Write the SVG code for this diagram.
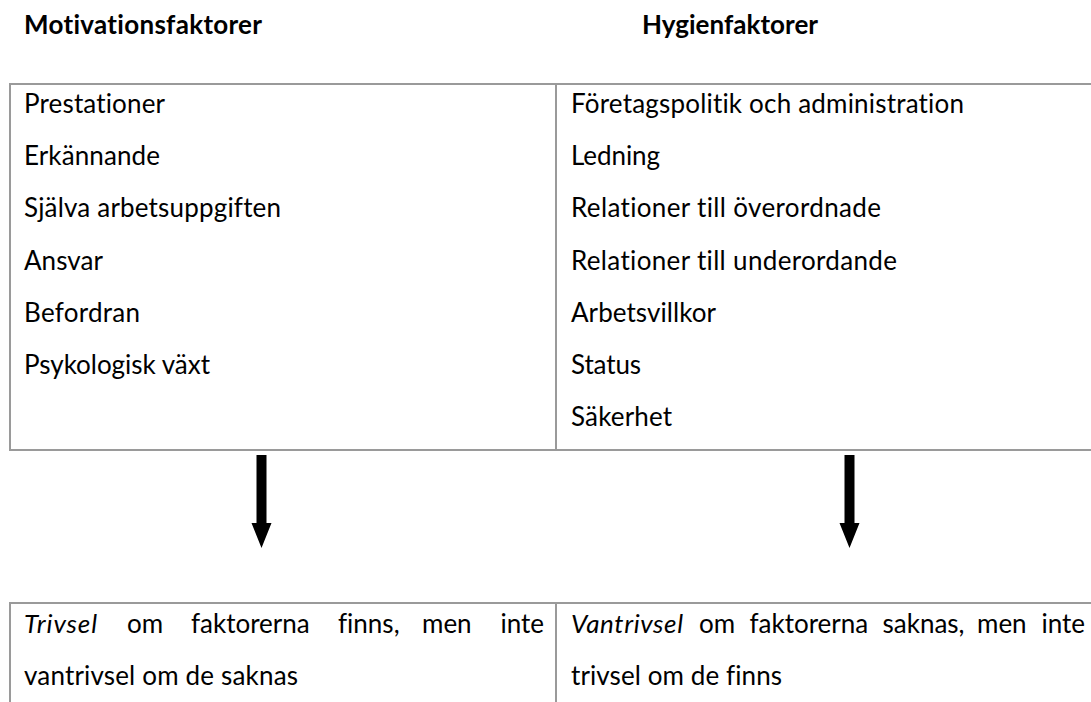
<svg xmlns="http://www.w3.org/2000/svg" xmlns:xlink="http://www.w3.org/1999/xlink" width="1091" height="702" viewBox="0 0 1091 702">
  <style>
    .t { font-family: Lato, "Liberation Sans", sans-serif; font-size: 26px; fill: #000; font-variant-ligatures: none; }
    .h { font-family: Lato, "Liberation Sans", sans-serif; font-size: 26px; font-weight: bold; fill: #000; font-variant-ligatures: none; }
    .i { font-style: italic; }
    .e { text-anchor: end; }
    .box { fill: #fff; stroke: #9a9a9a; stroke-width: 2; }
    .div { stroke: #9a9a9a; stroke-width: 2; }
    .arrow { fill: #000; }
  </style>
  <defs>
    <path id="thickArrow" d="M -5 0 L 5 0 L 5 68 L 10 68 L 0 93 L -10 68 L -5 68 Z"/>
  </defs>
  <rect width="1091" height="702" fill="#fff"/>

  <g id="header-motivation">
    <text class="h" x="24" y="34" textLength="238">Motivationsfaktorer</text>
  </g>
  <g id="header-hygien">
    <text class="h" x="642" y="34" textLength="176">Hygienfaktorer</text>
  </g>

  <g id="table-factors">
    <rect class="box" x="10" y="84" width="1095" height="366"/>
    <line class="div" x1="556" y1="84" x2="556" y2="450"/>
  </g>

  <g id="motivation-list">
    <text class="t" x="24" y="113" textLength="141">Prestationer</text>
    <text class="t" x="24" y="165.2" textLength="136">Erkännande</text>
    <text class="t" x="24" y="217.4" textLength="257">Själva arbetsuppgiften</text>
    <text class="t" x="24" y="269.6" textLength="79">Ansvar</text>
    <text class="t" x="24" y="321.8" textLength="116">Befordran</text>
    <text class="t" x="24" y="374" textLength="186">Psykologisk växt</text>
  </g>

  <g id="hygien-list">
    <text class="t" x="571" y="113" textLength="393">Företagspolitik och administration</text>
    <text class="t" x="571" y="165.2" textLength="89">Ledning</text>
    <text class="t" x="571" y="217.4" textLength="310">Relationer till överordnade</text>
    <text class="t" x="571" y="269.6" textLength="326">Relationer till underordande</text>
    <text class="t" x="571" y="321.8" textLength="145">Arbetsvillkor</text>
    <text class="t" x="571" y="374" textLength="70">Status</text>
    <text class="t" x="571" y="426.2" textLength="101">Säkerhet</text>
  </g>

  <g id="connectors">
    <use href="#thickArrow" xlink:href="#thickArrow" class="arrow" transform="translate(261.5,455)"/>
    <use href="#thickArrow" xlink:href="#thickArrow" class="arrow" transform="translate(849.5,455)"/>
  </g>

  <g id="table-outcomes">
    <rect class="box" x="10" y="603" width="1095" height="120"/>
    <line class="div" x1="556" y1="603" x2="556" y2="710"/>
  </g>

  <g id="outcome-motivation">
    <text class="t i" x="24" y="633" textLength="73">Trivsel</text>
    <text class="t" x="127" y="633">om</text>
    <text class="t" x="191" y="633">faktorerna</text>
    <text class="t" x="338" y="633">finns,</text>
    <text class="t" x="422" y="633">men</text>
    <text class="t e" x="544" y="633">inte</text>
    <text class="t" x="24" y="685" textLength="274">vantrivsel om de saknas</text>
  </g>

  <g id="outcome-hygien">
    <text class="t i" x="571" y="633" textLength="112">Vantrivsel</text>
    <text class="t" x="699" y="633">om</text>
    <text class="t" x="749.5" y="633">faktorerna</text>
    <text class="t" x="882.5" y="633">saknas,</text>
    <text class="t" x="977" y="633">men</text>
    <text class="t e" x="1085" y="633">inte</text>
    <text class="t" x="571" y="685" textLength="211">trivsel om de finns</text>
  </g>
</svg>
